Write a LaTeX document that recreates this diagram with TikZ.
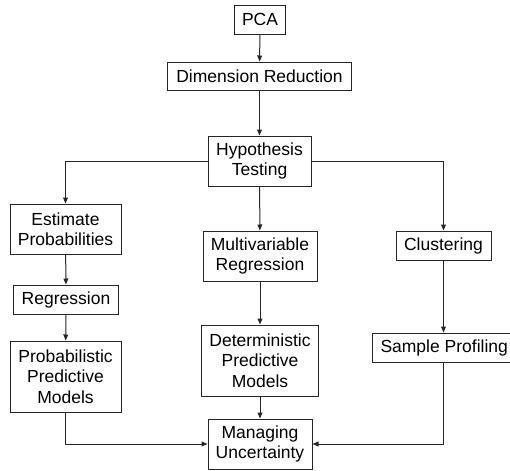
\documentclass[tikz,border=0pt]{standalone}
\usepackage{fontspec}
\setmainfont{Liberation Sans}
\usetikzlibrary{arrows.meta}

\tikzset{
  box/.style={draw=black!85, line width=0.5pt, align=center, inner sep=0pt, font=\fontsize{8.75}{10.15}\selectfont},
  link/.style={draw=black!85, line width=0.5pt, -{Triangle[length=3pt,width=2.4pt]}}
}

\begin{document}
\begin{tikzpicture}[x=0.5pt,y=-0.5pt]

\clip (0,0) rectangle (510,471);

%%%%% Top chain
\node [box, minimum width=25.5pt, minimum height=14.5pt] (pca) at (260,19.5) {PCA};
\node [box, minimum width=92pt, minimum height=14pt] (dimred) at (259.5,76) {Dimension Reduction};
\node [box, minimum width=51.5pt, minimum height=25pt] (hypo) at (259.5,161) {Hypothesis\\Testing};

%%%%% Left branch
\node [box, minimum width=55.5pt, minimum height=25pt] (estprob) at (65.5,229) {Estimate\\Probabilities};
\node [box, minimum width=52.25pt, minimum height=14.5pt] (regr) at (66,299.5) {Regression};
\node [box, minimum width=55.5pt, minimum height=35.5pt] (probmod) at (65.5,376.5) {Probabilistic\\Predictive\\Models};

%%%%% Middle branch
\node [box, minimum width=57pt, minimum height=25pt] (multireg) at (260,256) {Multivariable\\Regression};
\node [box, minimum width=58.75pt, minimum height=35.5pt] (detmod) at (260,360.5) {Deterministic\\Predictive\\Models};
\node [box, minimum width=52pt, minimum height=25pt] (uncert) at (260,444) {Managing\\Uncertainty};

%%%%% Right branch
\node [box, minimum width=47.5pt, minimum height=14.5pt] (clust) at (443.5,245.5) {Clustering};
\node [box, inner xsep=4pt, minimum height=14.5pt, anchor=west] (profil) at (372,347.5) {Sample Profiling};

%%%%% Arrows
\draw [link] (pca) -- (dimred); \draw [link] (dimred) -- (hypo);
\draw [link] (hypo.west) -| (estprob.north); \draw [link] (hypo) -- (multireg); \draw [link] (hypo.east) -| (clust.north);
\draw [link] (estprob) -- (regr); \draw [link] (regr) -- (probmod);
\draw [link] (multireg) -- (detmod); \draw [link] (detmod) -- (uncert);
\draw [link] (clust.south) -- (clust.south |- profil.north);
\draw [link] (clust.south |- profil.south) |- (uncert.east);
\draw [link] (probmod.south) |- (uncert.west);

\end{tikzpicture}
\end{document}
